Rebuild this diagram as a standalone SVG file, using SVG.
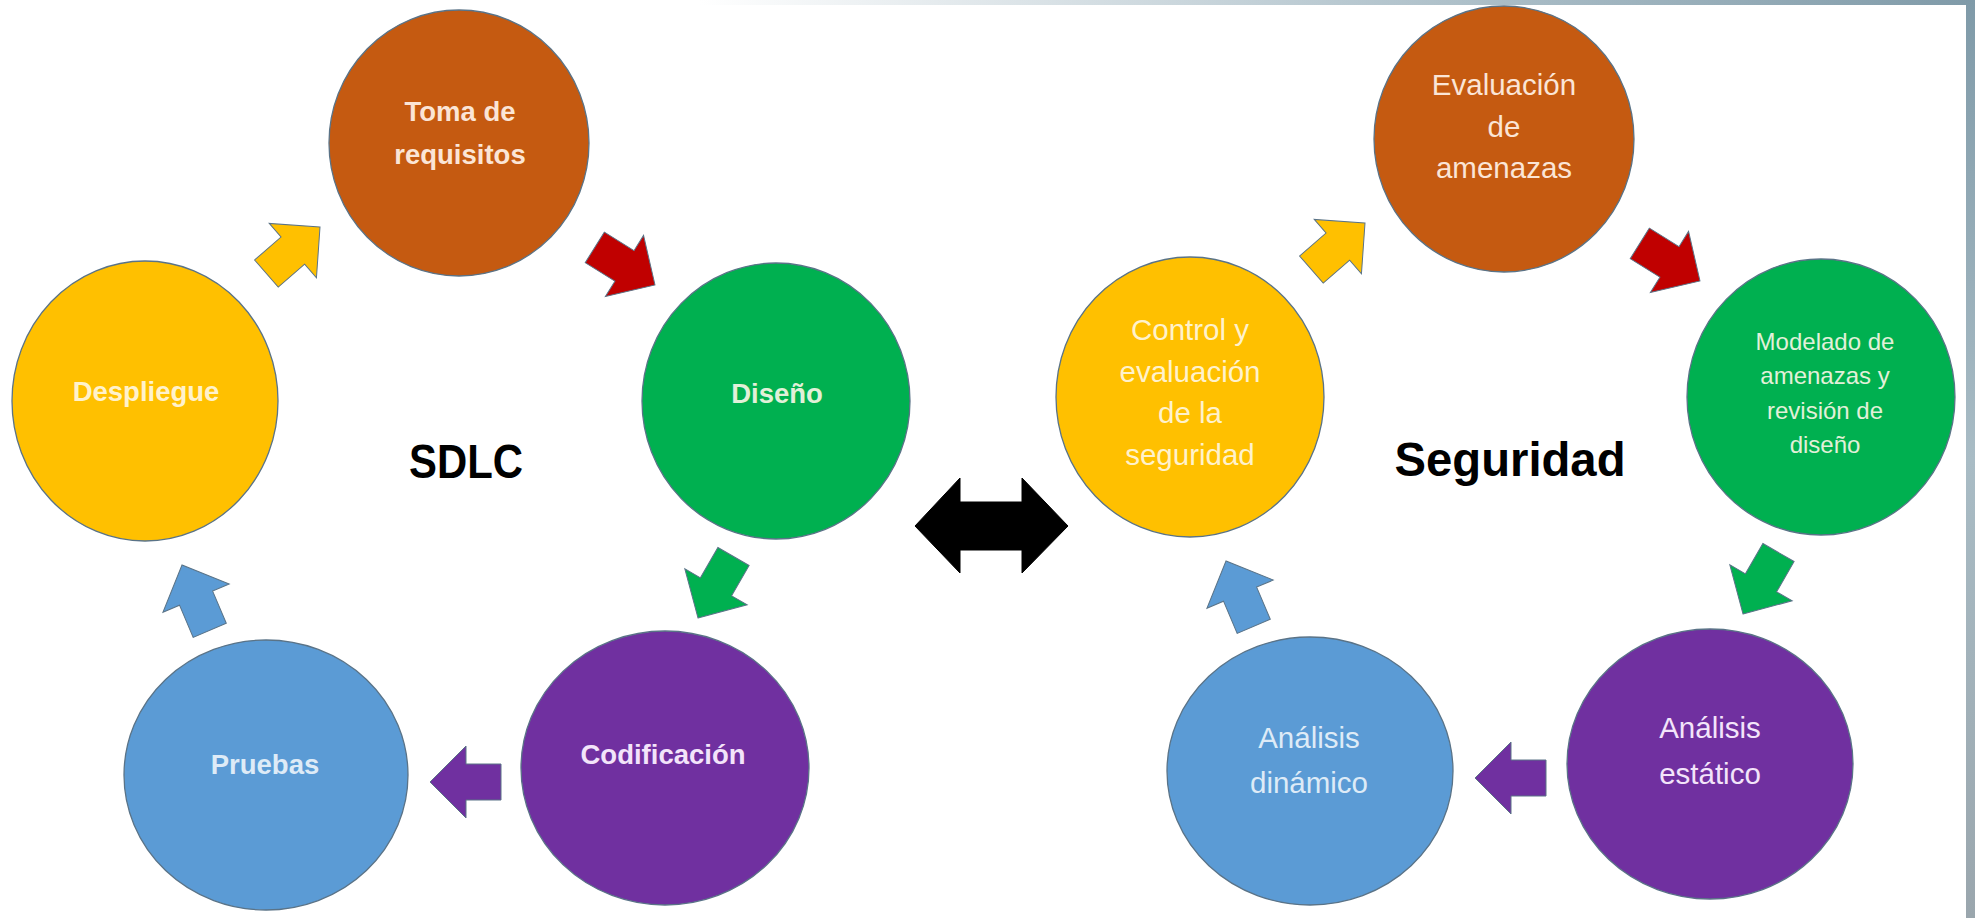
<svg xmlns="http://www.w3.org/2000/svg" width="1975" height="918" viewBox="0 0 1975 918">
<defs>
<style>
.node{stroke:#5a7387;stroke-width:1.3}
.arrow{stroke:#5a7387;stroke-width:1;stroke-linejoin:miter}
.b{font-family:"Liberation Sans",Arial,sans-serif;font-weight:bold;font-size:27.5px;text-anchor:middle}
.r{font-family:"Liberation Sans",Arial,sans-serif;font-size:29.5px;text-anchor:middle}
.s{font-family:"Liberation Sans",Arial,sans-serif;font-size:24px;text-anchor:middle}
.title{font-family:"Liberation Sans",Arial,sans-serif;font-weight:bold;font-size:48px;text-anchor:middle;fill:#000}
.tOr{fill:#FBE5D6}.tYe{fill:#FFF2CC}.tGr{fill:#E2F0D9}.tPu{fill:#F3E4FA}.tBl{fill:#DEEBF7}
</style>
<path id="blk" d="M0,0 L-36,-36 L-36,-18 L-71,-18 L-71,18 L-36,18 L-36,36 Z"/>
<linearGradient id="topband" x1="0" y1="0" x2="1" y2="0">
<stop offset="0" stop-color="#ffffff"/>
<stop offset="0.5" stop-color="#b9c9d1"/>
<stop offset="1" stop-color="#7f9aa8"/>
</linearGradient>
<linearGradient id="sideband" x1="0" y1="0" x2="0" y2="1">
<stop offset="0" stop-color="#7f9aa8"/>
<stop offset="0.5" stop-color="#a9bcc5"/>
<stop offset="1" stop-color="#9aa6ad"/>
</linearGradient>
</defs>
<rect width="1975" height="918" fill="#ffffff"/>
<rect x="700" y="0" width="1275" height="5" fill="url(#topband)"/>
<rect x="1966" y="0" width="9" height="918" fill="url(#sideband)"/>

<g id="connectors">
<use href="#blk" class="arrow" fill="#FFC000" transform="translate(320,227) rotate(-41)"/>
<use href="#blk" class="arrow" fill="#C00000" transform="translate(655,285) rotate(32)"/>
<use href="#blk" class="arrow" fill="#00B050" transform="translate(698,618) rotate(120)"/>
<use href="#blk" class="arrow" fill="#7030A0" transform="translate(430,782) rotate(180)"/>
<use href="#blk" class="arrow" fill="#5B9BD5" transform="translate(182,565) rotate(-113)"/>
<use href="#blk" class="arrow" fill="#FFC000" transform="translate(1365,223) rotate(-41)"/>
<use href="#blk" class="arrow" fill="#C00000" transform="translate(1700,281) rotate(32)"/>
<use href="#blk" class="arrow" fill="#00B050" transform="translate(1743,614) rotate(120)"/>
<use href="#blk" class="arrow" fill="#7030A0" transform="translate(1475,778) rotate(180)"/>
<use href="#blk" class="arrow" fill="#5B9BD5" transform="translate(1226,561) rotate(-113)"/>
<path id="double-arrow" d="M915,526 L960,478 L960,502 L1022,502 L1022,478 L1068,526 L1022,573 L1022,550 L960,550 L960,573 Z" fill="#000" stroke="#000" stroke-width="1" stroke-linejoin="round"/>
</g>

<g id="toma">
<ellipse class="node" cx="459" cy="143" rx="130" ry="133" fill="#C55A11"/>
<text class="b tOr" x="460" y="121">Toma de</text>
<text class="b tOr" x="460" y="164">requisitos</text>
</g>
<g id="despliegue">
<ellipse class="node" cx="145" cy="401" rx="133" ry="140" fill="#FFC000"/>
<text class="b tYe" x="146" y="401">Despliegue</text>
</g>
<g id="diseno">
<ellipse class="node" cx="776" cy="401" rx="134" ry="138" fill="#00B050"/>
<text class="b tGr" x="777" y="403">Diseño</text>
</g>
<g id="codificacion">
<ellipse class="node" cx="665" cy="768" rx="144" ry="137" fill="#7030A0"/>
<text class="b tPu" x="663" y="764">Codificación</text>
</g>
<g id="pruebas">
<ellipse class="node" cx="266" cy="775" rx="142" ry="135" fill="#5B9BD5"/>
<text class="b tBl" x="265" y="774">Pruebas</text>
</g>
<g id="sdlc-title">
<text class="title" x="466" y="478" textLength="114" lengthAdjust="spacingAndGlyphs">SDLC</text>
</g>

<g id="evaluacion">
<ellipse class="node" cx="1504" cy="139" rx="130" ry="133" fill="#C55A11"/>
<text class="r tOr" x="1504" y="95">Evaluación</text>
<text class="r tOr" x="1504" y="137">de</text>
<text class="r tOr" x="1504" y="178">amenazas</text>
</g>
<g id="control">
<ellipse class="node" cx="1190" cy="397" rx="134" ry="140" fill="#FFC000"/>
<text class="r tYe" x="1190" y="340">Control y</text>
<text class="r tYe" x="1190" y="382">evaluación</text>
<text class="r tYe" x="1190" y="423">de la</text>
<text class="r tYe" x="1190" y="465">seguridad</text>
</g>
<g id="modelado">
<ellipse class="node" cx="1821" cy="397" rx="134" ry="138" fill="#00B050"/>
<text class="s tGr" x="1825" y="350">Modelado de</text>
<text class="s tGr" x="1825" y="384">amenazas y</text>
<text class="s tGr" x="1825" y="419">revisión de</text>
<text class="s tGr" x="1825" y="453">diseño</text>
</g>
<g id="estatico">
<ellipse class="node" cx="1710" cy="764" rx="143" ry="135" fill="#7030A0"/>
<text class="r tPu" x="1710" y="738">Análisis</text>
<text class="r tPu" x="1710" y="784">estático</text>
</g>
<g id="dinamico">
<ellipse class="node" cx="1310" cy="771" rx="143" ry="134" fill="#5B9BD5"/>
<text class="r tBl" x="1309" y="748">Análisis</text>
<text class="r tBl" x="1309" y="793">dinámico</text>
</g>
<g id="seguridad-title">
<text class="title" x="1510" y="476" textLength="231" lengthAdjust="spacingAndGlyphs">Seguridad</text>
</g>
</svg>
